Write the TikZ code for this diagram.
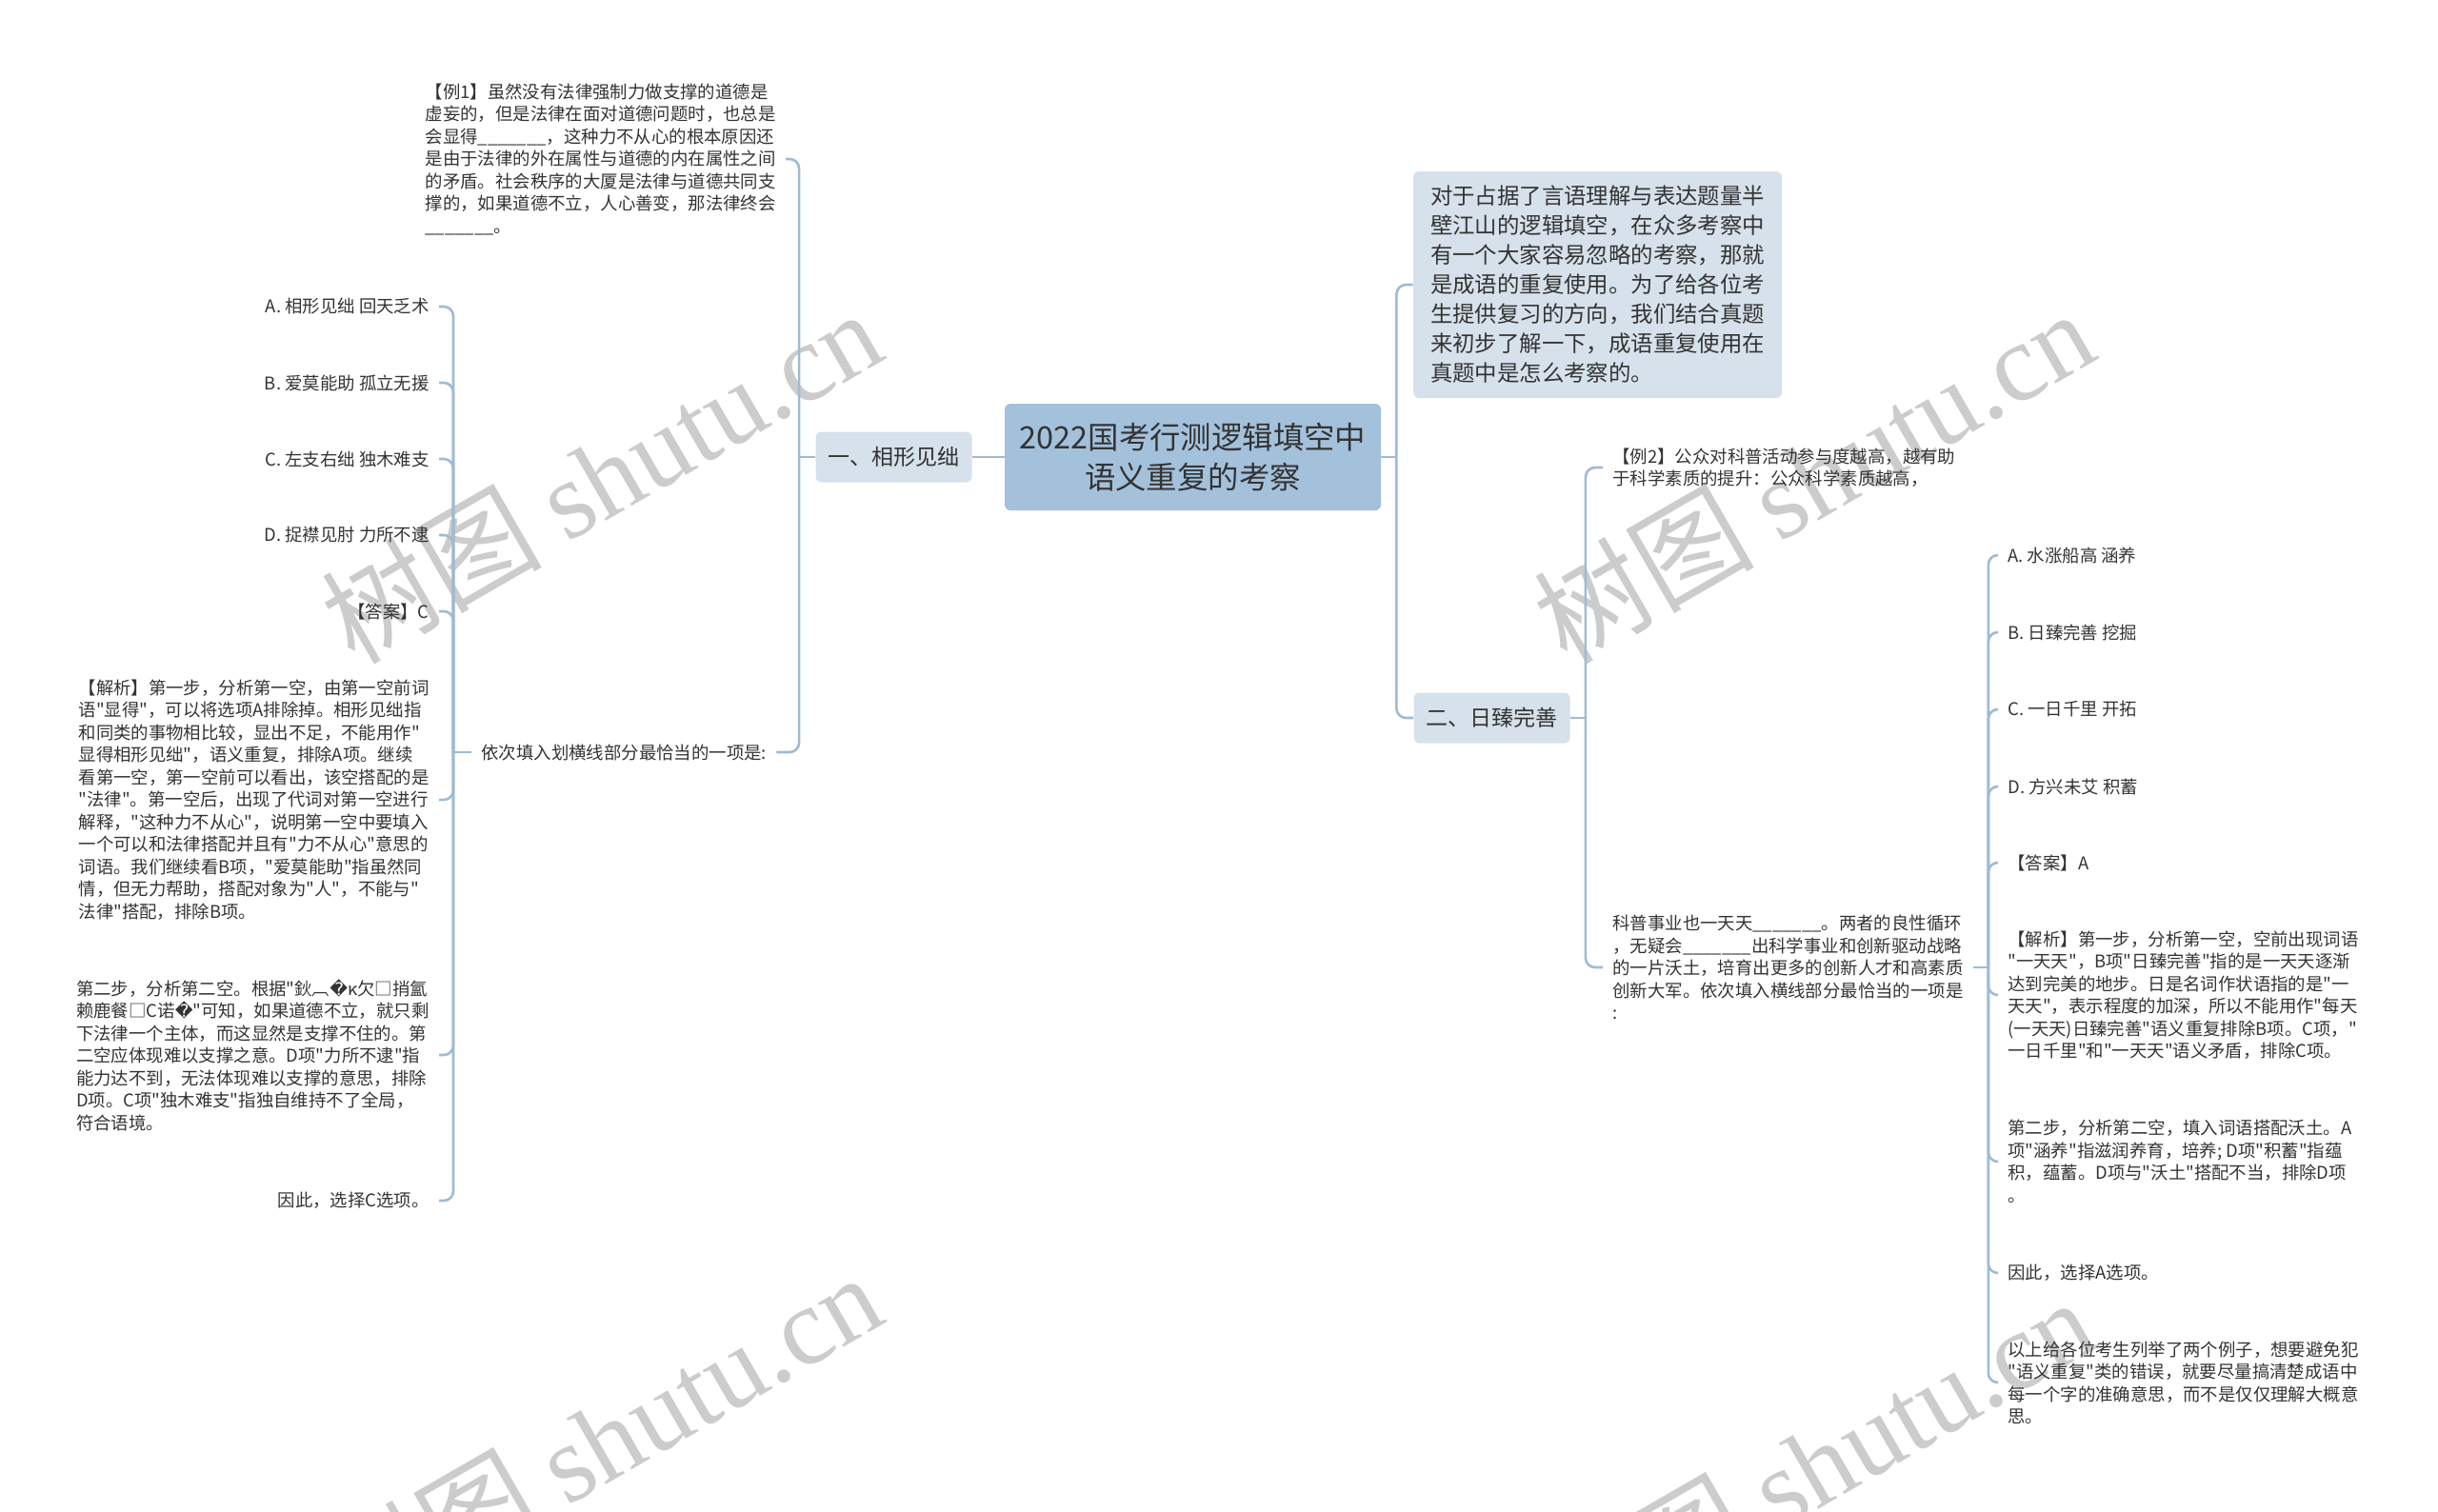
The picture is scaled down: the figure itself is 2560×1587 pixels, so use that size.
\documentclass[tikz,border=0pt]{standalone}
\usepackage{fontspec}
\newfontfamily\cjk{Noto Sans CJK SC}
\newfontfamily\wmfont{Liberation Serif}
\newfontfamily\symfont{DejaVu Sans}
\usetikzlibrary{calc}

\definecolor{linkc}{RGB}{160,186,212}
\definecolor{rootc}{RGB}{164,193,220}
\definecolor{topicc}{RGB}{214,225,235}
\definecolor{txtc}{RGB}{51,51,51}
\definecolor{wmc}{RGB}{204,204,204}

\tikzset{
  link/.style={draw=linkc, line width=1.3pt, rounded corners=5pt},
  rootbox/.style={fill=rootc, rounded corners=3pt, text=txtc, align=center,
    font=\cjk\fontsize{16.2}{21}\selectfont, minimum width=197.5pt, minimum height=56pt},
  topic/.style={fill=topicc, rounded corners=3pt, text=txtc,
    font=\cjk\fontsize{11.5}{14}\selectfont, minimum width=82pt, minimum height=26.5pt},
  leaf/.style={text=txtc, align=left, font=\cjk\fontsize{9.2}{11.75}\selectfont,
    inner xsep=5pt, inner ysep=2pt},
  wmark/.style={text=wmc, rotate=30, anchor=base west, inner sep=0pt,
    font=\cjk\fontsize{58}{58}\selectfont}
}
\newcommand{\blank}{\_\_\_\_\_\_\_}
\newcommand{\bad}{{\symfont ^^^^fffd}}

\begin{document}
\begin{tikzpicture}[x=0.5pt,y=-0.5pt]
\useasboundingbox (0,0) rectangle (2560,1587);

% watermarks
\node[wmark] (wm1) at (372,700) {树图 {\wmfont shutu.cn}};
\node[wmark] (wm2) at (1645,700) {树图 {\wmfont shutu.cn}};
\node[wmark] (wm3) at (372,1712) {树图 {\wmfont shutu.cn}};
\node[wmark] (wm4) at (1645,1738) {树图 {\wmfont shutu.cn}};

% centre and main branches
\node[rootbox] (root) at (1252.5,480) {2022国考行测逻辑填空中\\语义重复的考察};
\node[topic] (topicL) at (938.5,480) {一、相形见绌};
\node[topic, align=left, font=\cjk\fontsize{11.7}{15.5}\selectfont,
  minimum width=193.5pt, minimum height=119pt] (intro) at (1677.5,299)
  {对于占据了言语理解与表达题量半\\
   壁江山的逻辑填空，在众多考察中\\
   有一个大家容易忽略的考察，那就\\
   是成语的重复使用。为了给各位考\\
   生提供复习的方向，我们结合真题\\
   来初步了解一下，成语重复使用在\\
   真题中是怎么考察的。};
\node[topic] (topicR) at (1566.5,754) {二、日臻完善};

% left side
\node[leaf, anchor=east] (exL) at (825,167)
  {【例1】虽然没有法律强制力做支撑的道德是\\
   虚妄的，但是法律在面对道德问题时，也总是\\
   会显得\blank，这种力不从心的根本原因还\\
   是由于法律的外在属性与道德的内在属性之间\\
   的矛盾。社会秩序的大厦是法律与道德共同支\\
   撑的，如果道德不立，人心善变，那法律终会\\
   \blank。};
\node[leaf, anchor=west] (askL) at (495,790) {依次填入划横线部分最恰当的一项是:};
\node[leaf, anchor=east] (optLA) at (461,322) {A. 相形见绌 回天乏术};
\node[leaf, anchor=east] (optLB) at (461,402) {B. 爱莫能助 孤立无援};
\node[leaf, anchor=east] (optLC) at (461,482) {C. 左支右绌 独木难支};
\node[leaf, anchor=east] (optLD) at (461,562) {D. 捉襟见肘 力所不逮};
\node[leaf, anchor=east] (ansL) at (461,642) {【答案】C};
\node[leaf, anchor=east] (anaL) at (461,840)
  {【解析】第一步，分析第一空，由第一空前词\\
   语"显得"，可以将选项A排除掉。相形见绌指\\
   和同类的事物相比较，显出不足，不能用作"\\
   显得相形见绌"，语义重复，排除A项。继续\\
   看第一空，第一空前可以看出，该空搭配的是\\
   "法律"。第一空后，出现了代词对第一空进行\\
   解释，"这种力不从心"，说明第一空中要填入\\
   一个可以和法律搭配并且有"力不从心"意思的\\
   词语。我们继续看B项，"爱莫能助"指虽然同\\
   情，但无力帮助，搭配对象为"人"，不能与"\\
   法律"搭配，排除B项。};
\node[leaf, anchor=east] (stepL) at (461,1108)
  {第二步，分析第二空。根据"鈥︹\bad κ欠□捎氳\\
   赖鹿餐□C诺\bad"可知，如果道德不立，就只剩\\
   下法律一个主体，而这显然是支撑不住的。第\\
   二空应体现难以支撑之意。D项"力所不逮"指\\
   能力达不到，无法体现难以支撑的意思，排除\\
   D项。C项"独木难支"指独自维持不了全局，\\
   符合语境。};
\node[leaf, anchor=east] (thusL) at (461,1261) {因此，选择C选项。};

% right side
\node[leaf, anchor=west] (exR) at (1683,491)
  {【例2】公众对科普活动参与度越高，越有助\\
   于科学素质的提升：公众科学素质越高，};
\node[leaf, anchor=west] (askR) at (1683,1016)
  {科普事业也一天天\blank。两者的良性循环\\
   ，无疑会\blank 出科学事业和创新驱动战略\\
   的一片沃土，培育出更多的创新人才和高素质\\
   创新大军。依次填入横线部分最恰当的一项是\\
   :};
\node[leaf, anchor=west] (optRA) at (2098,583) {A. 水涨船高 涵养};
\node[leaf, anchor=west] (optRB) at (2098,664) {B. 日臻完善 挖掘};
\node[leaf, anchor=west] (optRC) at (2098,745) {C. 一日千里 开拓};
\node[leaf, anchor=west] (optRD) at (2098,826) {D. 方兴未艾 积蓄};
\node[leaf, anchor=west] (ansR) at (2098,906) {【答案】A};
\node[leaf, anchor=west] (anaR) at (2098,1045)
  {【解析】第一步，分析第一空，空前出现词语\\
   "一天天"，B项"日臻完善"指的是一天天逐渐\\
   达到完美的地步。日是名词作状语指的是"一\\
   天天"，表示程度的加深，所以不能用作"每天\\
   (一天天)日臻完善"语义重复排除B项。C项，"\\
   一日千里"和"一天天"语义矛盾，排除C项。};
\node[leaf, anchor=west] (stepR) at (2098,1220)
  {第二步，分析第二空，填入词语搭配沃土。A\\
   项"涵养"指滋润养育，培养; D项"积蓄"指蕴\\
   积，蕴蓄。D项与"沃土"搭配不当，排除D项\\
   。};
\node[leaf, anchor=west] (thusR) at (2098,1337) {因此，选择A选项。};
\node[leaf, anchor=west] (sumR) at (2098,1452)
  {以上给各位考生列举了两个例子，想要避免犯\\
   "语义重复"类的错误，就要尽量搞清楚成语中\\
   每一个字的准确意思，而不是仅仅理解大概意\\
   思。};

% connectors
\coordinate (jRoot) at ($(root.east)+(16,0)$);
\coordinate (jL) at ($(topicL.west)+(-17,0)$);
\coordinate (jAskL) at ($(askL.west)+(-19,0)$);
\coordinate (jR) at ($(topicR.east)+(16,0)$);
\coordinate (jAskR) at ($(askR.east)+(16,0)$);

\draw[link] (root.west) -- (topicL.east);
\draw[link] (root.east) -- (jRoot);
\draw[link] (intro.west) -| (jRoot);
\draw[link] (topicR.west) -| (jRoot);

\draw[link] (topicL.west) -- (jL);
\foreach \k in {exL,askL} \draw[link] (\k.east) -| (jL);
\draw[link] (askL.west) -- (jAskL);
\foreach \k in {optLA,optLB,optLC,optLD,ansL,anaL,stepL,thusL}
  \draw[link] (\k.east) -| (jAskL);

\draw[link] (topicR.east) -- (jR);
\foreach \k in {exR,askR} \draw[link] (\k.west) -| (jR);
\draw[link] (askR.east) -- (jAskR);
\foreach \k in {optRA,optRB,optRC,optRD,ansR,anaR,stepR,thusR,sumR}
  \draw[link] (\k.west) -| (jAskR);
\end{tikzpicture}
\end{document}
